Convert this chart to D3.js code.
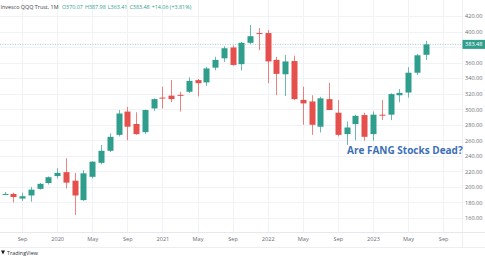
<!DOCTYPE html>
<html>
<head>
<meta charset="utf-8">
<script src="https://cdn.jsdelivr.net/npm/d3@7"></script>
<style>
  body { margin: 0; background: #fff; }
  svg { display: block; font-family: "Open Sans", sans-serif; }
</style>
</head>
<body>
<svg id="chart"></svg>
<script>
// Monthly candles, Jul 2019 .. Jul 2023
const months = [
  '2019-07','2019-08','2019-09','2019-10','2019-11','2019-12',
  '2020-01','2020-02','2020-03','2020-04','2020-05','2020-06','2020-07','2020-08','2020-09','2020-10','2020-11','2020-12',
  '2021-01','2021-02','2021-03','2021-04','2021-05','2021-06','2021-07','2021-08','2021-09','2021-10','2021-11','2021-12',
  '2022-01','2022-02','2022-03','2022-04','2022-05','2022-06','2022-07','2022-08','2022-09','2022-10','2022-11','2022-12',
  '2023-01','2023-02','2023-03','2023-04','2023-05','2023-06','2023-07'
];
const open = [
  190.5, 191, 185, 189, 197.5, 205,
  214, 219, 208, 183, 213, 231, 246.5, 267, 297, 281, 270.5, 301,
  315, 317.5, 318.5, 322.5, 337.5, 334.5, 353.5, 365.5, 379.5, 358, 385.5, 398,
  398, 363.5, 345, 362, 312, 310, 277.5, 313, 295.5, 268, 281, 292.5,
  268, 293, 293, 318, 321.5, 347, 370.07
];
const high = [
  193.5, 192.5, 192.5, 200, 205, 213.5,
  224, 237, 218, 221.5, 233, 254, 269, 299, 303, 296, 299.5, 314,
  329, 337.5, 322.5, 341, 339, 354.5, 367.5, 381, 382, 386.5, 408.5, 404.5,
  402, 367.5, 370, 369, 329, 318, 316, 334, 312, 284, 293, 295.5,
  297, 312, 320.5, 326, 354, 371, 387.98
];
const low = [
  189.5, 180, 182, 181, 196.5, 203,
  211, 198, 164, 182, 211, 229, 245, 265, 260, 267, 268, 297.5,
  301, 309, 297, 321, 316.5, 330, 350, 361, 356, 350, 384, 376,
  333.5, 318, 317, 312, 280, 267, 270, 299, 265, 254, 260, 259.5,
  259.5, 286, 286, 309, 315, 344, 363.41
];
const close = [
  191, 187, 188, 196.5, 204, 212.5,
  218, 205.5, 189, 217.5, 232.5, 246.5, 264.5, 294.5, 277.5, 268, 299, 313,
  314.5, 313, 318, 336.5, 333.5, 352.5, 363.5, 378.5, 357, 385.5, 394, 397.5,
  361.5, 345.5, 361.5, 313, 307.5, 280, 314, 299, 267, 276.5, 291.5, 264.5,
  293, 292.5, 319.5, 321, 347, 369.42, 383.48
];
const priceTicks = [160, 180, 200, 220, 240, 260, 280, 300, 320, 340, 360, 380, 400, 420];
const timeTickIndex = [2, 6, 10, 14, 18, 22, 26, 30, 34, 38, 42, 46, 50];
const timeTickLabels = ['Sep', '2020', 'May', 'Sep', '2021', 'May', 'Sep', '2022', 'May', 'Sep', '2023', 'May', 'Sep'];
const lastClose = close[close.length - 1];

const data = months.map((m, i) => ({ i, m, o: open[i], h: high[i], l: low[i], c: close[i] }));

const width = 485;
const height = 261;
const plotRight = 462;
const axisTop = 232;

const upColor = '#2f9e8c';
const downColor = '#e5504d';
const gridColor = '#f0f2f6';
const textColor = '#6a6d78';

const x = d3.scaleLinear().domain([0, 48]).range([4.5, 425.6]);
const y = d3.scaleLinear().domain([160, 420]).range([218, 16]);
const bodyW = 6;

const svg = d3.select('#chart')
  .attr('width', width)
  .attr('height', height)
  .attr('viewBox', [0, 0, width, height]);

// Grid
svg.append('g')
  .selectAll('line')
  .data(priceTicks)
  .join('line')
  .attr('x1', 0).attr('x2', plotRight)
  .attr('y1', d => Math.round(y(d)) + 0.5).attr('y2', d => Math.round(y(d)) + 0.5)
  .attr('stroke', gridColor);

svg.append('g')
  .selectAll('line')
  .data(timeTickIndex)
  .join('line')
  .attr('x1', d => Math.round(x(d)) + 0.5).attr('x2', d => Math.round(x(d)) + 0.5)
  .attr('y1', 0).attr('y2', axisTop)
  .attr('stroke', gridColor);

// Last price line
svg.append('line')
  .attr('x1', 0).attr('x2', plotRight)
  .attr('y1', y(lastClose)).attr('y2', y(lastClose))
  .attr('stroke', upColor)
  .attr('stroke-opacity', 0.45)
  .attr('stroke-dasharray', '1,1.5');

// Candles
const candle = svg.append('g')
  .selectAll('g')
  .data(data)
  .join('g')
  .attr('fill', d => d.c >= d.o ? upColor : downColor)
  .attr('stroke', d => d.c >= d.o ? upColor : downColor);

candle.append('line')
  .attr('x1', d => Math.round(x(d.i)) + 0.5)
  .attr('x2', d => Math.round(x(d.i)) + 0.5)
  .attr('y1', d => y(d.h))
  .attr('y2', d => y(d.l))
  .attr('stroke-opacity', 0.7)
  .attr('stroke-width', 1);

candle.append('rect')
  .attr('x', d => Math.round(x(d.i)) + 0.5 - bodyW / 2)
  .attr('y', d => y(Math.max(d.o, d.c)))
  .attr('width', bodyW)
  .attr('height', d => Math.max(1, Math.abs(y(d.o) - y(d.c))))
  .attr('stroke', 'none');

// Axis borders
svg.append('line')
  .attr('x1', 0).attr('x2', width)
  .attr('y1', axisTop + 0.5).attr('y2', axisTop + 0.5)
  .attr('stroke', '#e6e8ee');
svg.append('line')
  .attr('x1', plotRight + 0.5).attr('x2', plotRight + 0.5)
  .attr('y1', 0).attr('y2', 248)
  .attr('stroke', '#eceef2');

// Price axis (the label under the last-price tag is hidden, as in TradingView)
const priceLabels = priceTicks.filter(v => Math.abs(y(v) - y(lastClose)) > 8);
svg.append('g')
  .attr('transform', `translate(${plotRight},0)`)
  .call(d3.axisRight(y).tickValues(priceLabels).tickFormat(d3.format('.2f')).tickSize(0).tickPadding(3))
  .call(g => g.select('.domain').remove())
  .call(g => g.selectAll('text').attr('fill', textColor).attr('font-size', 5.6).attr('font-family', '"Open Sans", sans-serif'));

// Last price tag
const tag = svg.append('g').attr('transform', `translate(${plotRight},${y(lastClose)})`);
tag.append('rect').attr('x', 0.5).attr('y', -4.5).attr('width', 24).attr('height', 9).attr('fill', upColor);
tag.append('text').attr('x', 3).attr('dy', '0.35em').attr('fill', '#fff')
  .attr('font-size', 5.6).text(lastClose.toFixed(2));

// Time axis
svg.append('g')
  .attr('transform', `translate(0,${axisTop})`)
  .call(d3.axisBottom(x).tickValues(timeTickIndex).tickFormat((d, i) => timeTickLabels[i]).tickSize(0).tickPadding(5))
  .call(g => g.select('.domain').remove())
  .call(g => g.selectAll('text').attr('fill', textColor).attr('font-size', 5.6).attr('font-family', '"Open Sans", sans-serif'));

svg.append('line')
  .attr('x1', 0).attr('x2', width)
  .attr('y1', 247.5).attr('y2', 247.5)
  .attr('stroke', '#eceef2');

// Header legend
const last = close.length - 1;
const chg = close[last] - close[last - 1];
const header = svg.append('text')
  .attr('x', 0.5).attr('y', 8.5)
  .attr('font-size', 5.4);
header.append('tspan').attr('fill', '#3b3e48').text('Invesco QQQ Trust, 1M ');
header.append('tspan').attr('fill', upColor).attr('dx', 2).text(`O${open[last].toFixed(2)}`);
header.append('tspan').attr('fill', upColor).attr('dx', 2).text(`H${high[last].toFixed(2)}`);
header.append('tspan').attr('fill', upColor).attr('dx', 2).text(`L${low[last].toFixed(2)}`);
header.append('tspan').attr('fill', upColor).attr('dx', 2).text(`C${close[last].toFixed(2)}`);
header.append('tspan').attr('fill', upColor).attr('dx', 2)
  .text(`+${chg.toFixed(2)} (+${(chg / close[last - 1] * 100).toFixed(2)}%)`);

// Annotation
svg.append('text')
  .attr('x', 347).attr('y', 154)
  .attr('font-size', 10)
  .attr('font-weight', 700)
  .attr('fill', '#3d6fb6')
  .text('Are FANG Stocks Dead?');

// TradingView mark
const tv = svg.append('g').attr('transform', 'translate(1,253)');
tv.append('path').attr('d', 'M0,-2.5 H4 L2,1.5 Z').attr('fill', '#131722');
tv.append('text').attr('x', 6).attr('dy', '0.35em').attr('font-size', 5.4).attr('fill', '#2a2e39').text('TradingView');
</script>
</body>
</html>
